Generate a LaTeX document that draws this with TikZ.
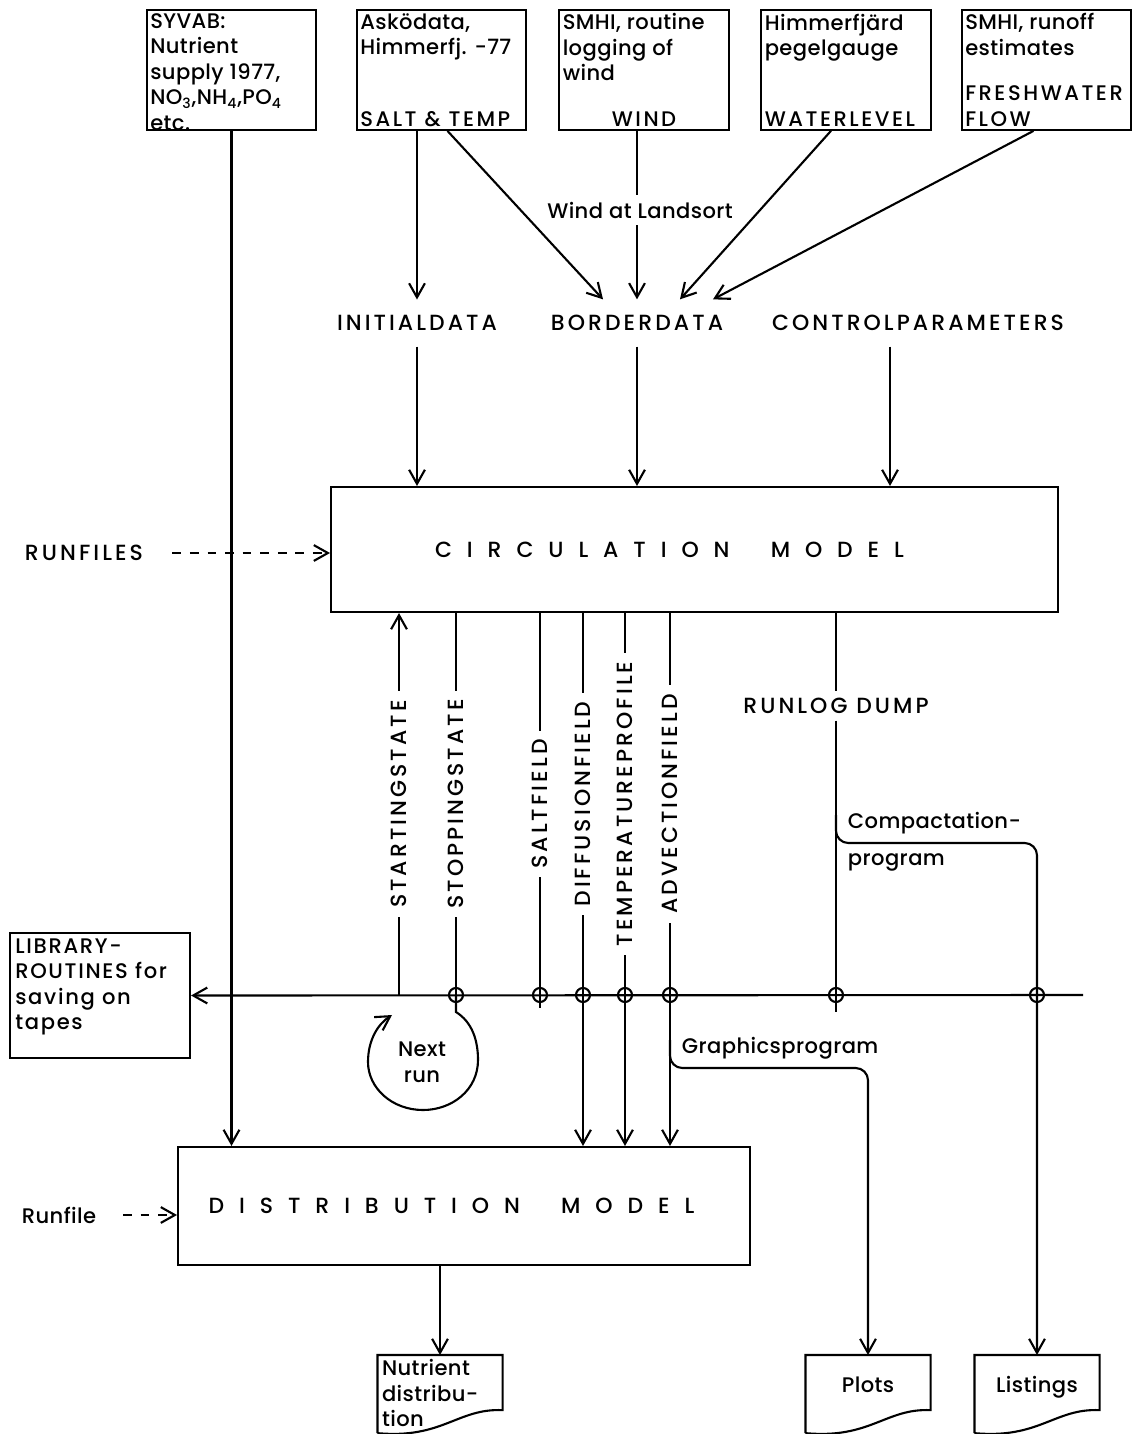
\documentclass[tikz,border=0pt]{standalone}
\usepackage{fontspec}
\setmainfont{Poppins}[UprightFont=* Medium, LetterSpace=2]
\usetikzlibrary{arrows.meta, positioning, calc}
\tikzset{
    %Define standard arrow tip
    >={Straight Barb[length=8pt, width=9pt]},
    %Define style for capital names
    caps/.style={
           font=\fontsize{12.5}{14.5}\selectfont\addfontfeatures{LetterSpace=14}},
    %Define style for source boxes
    kalla/.style={
           rectangle,
           draw=black,
           inner sep=2pt},
    %Define style for model boxes
    modell/.style={
           rectangle,
           draw=black},
    %Define style for output documents
    dok/.style={
           anchor=north,
           inner sep=2pt},
    %Define style for data names
    data/.style={
           caps,
           outer sep=0.2cm},
    %Define style for names along vertical lines
    vlab/.style={
           caps,
           rotate=90,
           fill=white,
           inner xsep=5pt,
           inner ysep=1pt},
    %Define junction on the tape line
    kors/.style={
           circle,
           draw=black,
           inner sep=0pt,
           minimum size=0.28cm},
    % Define arrow style
    pil/.style={
           ->},
    streck/.style={
           ->,
           dash pattern=on 5pt off 5pt,
           shorten <=0.45cm},
}
\newcommand{\kalltext}[2]{\begin{minipage}[t][2.25cm][s]{3.25cm}\raggedright #1\par\vfill {\addfontfeatures{LetterSpace=12}#2\par}\end{minipage}}
\newcommand{\doktext}[1]{\begin{minipage}[t][1.38cm][t]{2.32cm}\raggedright #1\par\end{minipage}}
\newcommand{\dokram}[1]{\draw (#1.south west) -- (#1.north west) -- (#1.north east) -- ($(#1.south east)+(0,-23)$) .. controls ($(#1.south east)+(-45,-25)$) and ($(#1.south west)+(65,6)$) .. (#1.south west);}
\newcommand{\glest}[1]{{\addfontfeatures{LetterSpace=68}#1}}

\begin{document}
\begin{tikzpicture}[x=0.02cm, y=-0.02cm, line width=1.2pt, font=\fontsize{12}{14.5}\selectfont]
	\useasboundingbox (0,0) rectangle (1132,1434);
	%
	% sources
	%
	\node[kalla] (syvab) at (231.5,70) {\kalltext{SYVAB:\\Nutrient\\supply 1977,\\NO\textsubscript{3},NH\textsubscript{4},PO\textsubscript{4}\\etc.}{}};
	\node[kalla] (asko) at (441.5,70) {\kalltext{Asködata,\\Himmerfj. -77}{SALT \& TEMP}};
	\node[kalla] (vind) at (644,70) {\kalltext{SMHI, routine\\logging of\\wind}{\centering WIND}};
	\node[kalla] (himmer) at (846,70) {\kalltext{Himmerfjärd\\pegelgauge}{WATERLEVEL}};
	\node[kalla] (runoff) at (1046.5,70) {\kalltext{SMHI, runoff\\estimates}{FRESHWATER\\FLOW}};
	%
	% data
	%
	\node (landsort) at (640,210) {Wind at Landsort};
	\node[data] (initial) at (417,323) {INITIALDATA};
	\node[data] (border) at (637,323) {BORDERDATA};
	\node[data] (ctrl) at (918,323) {CONTROLPARAMETERS};
	%
	% models
	%
	\node[modell, caps, minimum width=14.54cm, minimum height=2.5cm] (circ) at (694.5,549.5) {\glest{CIRCULATION \ MODEL}\hspace*{1cm}};
	\node[caps] (runfiles) at (84,553) {RUNFILES};
	\node[modell, caps, minimum width=11.44cm, minimum height=2.36cm] (dist) at (464,1206) {\raisebox{-0.18cm}{\glest{DISTRIBUTION \ MODEL}}\hspace*{0.5cm}};
	\node (runfile) at (59,1215) {Runfile};
	\node[modell, inner sep=3pt] (lib) at (100,995.5) {\begin{minipage}[t][2.28cm][t]{3.39cm}\raggedright\addfontfeatures{LetterSpace=8}LIBRARY-\\ROUTINES for\\saving on\\tapes\end{minipage}};
	%
	% tape line
	%
	\coordinate (s1) at (399,995);
	\coordinate (busend) at (1083,995);
	\node[kors] (k1) at (456,995) {};
	\node[kors] (k2) at (540,995) {};
	\node[kors] (k3) at (583,995) {};
	\node[kors] (k4) at (625,995) {};
	\node[kors] (k5) at (670,995) {};
	\node[kors] (k6) at (836,995) {};
	\node[kors] (k7) at (1037,995) {};
	\coordinate (saltstub) at (540,1008);
	\coordinate (logstub) at (836,1012);
	\node[caps] (runlog) at (836,706) {RUNLOG DUMP};
	\node[anchor=west] (compa) at (841,823) {Compactation-};
	\node[anchor=west] (compb) at (841,862) {program};
	\node[anchor=west] (graf) at (675,1048) {Graphicsprogram};
	\node[align=center] (nextrun) at (422,1062) {Next\\run};
	\coordinate (loopend) at (392,1015);
	\coordinate (gbr) at (670,1040);
	\coordinate (gcorner) at (868,1068);
	\coordinate (cbr) at (836,815);
	\coordinate (ccorner) at (1037,843);
	%
	% outputs
	%
	\node[dok] (nutr) at (440,1355) {\doktext{Nutrient\\distribu-\\tion}};
	\node[dok] (plots) at (868,1355) {\doktext{\vspace*{0.34cm}\centering Plots}};
	\node[dok] (listings) at (1037,1355) {\doktext{\vspace*{0.34cm}\centering Listings}};
	\dokram{nutr}
	\dokram{plots}
	\dokram{listings}
	%
	% links
	%
	\draw[pil] (syvab) -- (syvab |- dist.north);
	\draw[pil] (asko.south -| initial) -- (initial.north);
	\draw[pil] ($(asko.south)+(6,0)$) -- ([xshift=-0.68cm]border.north);
	\draw (vind.south -| border) -- (border |- landsort.north);
	\draw[pil] (border |- landsort.south) -- (border.north);
	\draw[pil] ($(himmer.south)+(-15,0)$) -- ([xshift=0.86cm]border.north);
	\draw[pil] ($(runoff.south)+(-13,0)$) -- ([xshift=1.52cm]border.north);
	\draw[pil] (initial) -- (initial |- circ.north);
	\draw[pil] (border) -- (border |- circ.north);
	\draw[pil] ([xshift=-0.56cm]ctrl.south) -- ([xshift=-0.56cm]ctrl.south |- circ.north);
	\draw[streck] (runfiles) -- (runfiles -| circ.west);
	\draw[streck, shorten <=0.4cm] (runfile) -- (runfile -| dist.west);
	% vertical lines
	\draw[pil] (s1) -- node[vlab] (lstart) {STARTINGSTATE} (s1 |- circ.south);
	\draw (circ.south -| k1) -- node[vlab] (lstop) {STOPPINGSTATE} (k1.center);
	\draw (circ.south -| k2) -- node[vlab] (lsalt) {SALTFIELD} (k2.center) -- (saltstub);
	\draw (circ.south -| k3) -- node[vlab] (ldiff) {DIFFUSIONFIELD} (k3.center);
	\draw (circ.south -| k4) -- node[vlab] (ltemp) {TEMPERATUREPROFILE} (k4.center);
	\draw (circ.south -| k5) -- node[vlab] (ladv) {ADVECTIONFIELD} (k5.center);
	\draw[pil] (k3.center) -- (k3 |- dist.north);
	\draw[pil] (k4.center) -- (k4 |- dist.north);
	\draw[pil] (k5.center) -- (k5 |- dist.north);
	\draw (circ.south -| runlog) -- (runlog);
	\draw (runlog) -- (k6.center) -- (logstub);
	\draw[pil] (busend) -- (lib.east);
	% next run
	\draw[pil] (k1.center) -- (456,1012) .. controls (472,1022) and (478,1040) .. (478,1060) .. controls (478,1090) and (452,1110) .. (423,1110) .. controls (392,1110) and (368,1088) .. (368,1062) .. controls (368,1040) and (378,1024) .. (loopend);
	% programs
	\draw[pil, rounded corners=7pt] (gbr) |- (gcorner) -- (plots.north);
	\draw[pil, rounded corners=7pt] (cbr) |- (ccorner) -- (listings.north);
	\draw[pil] (dist.south -| nutr) -- (nutr.north);
\end{tikzpicture}
\end{document}
